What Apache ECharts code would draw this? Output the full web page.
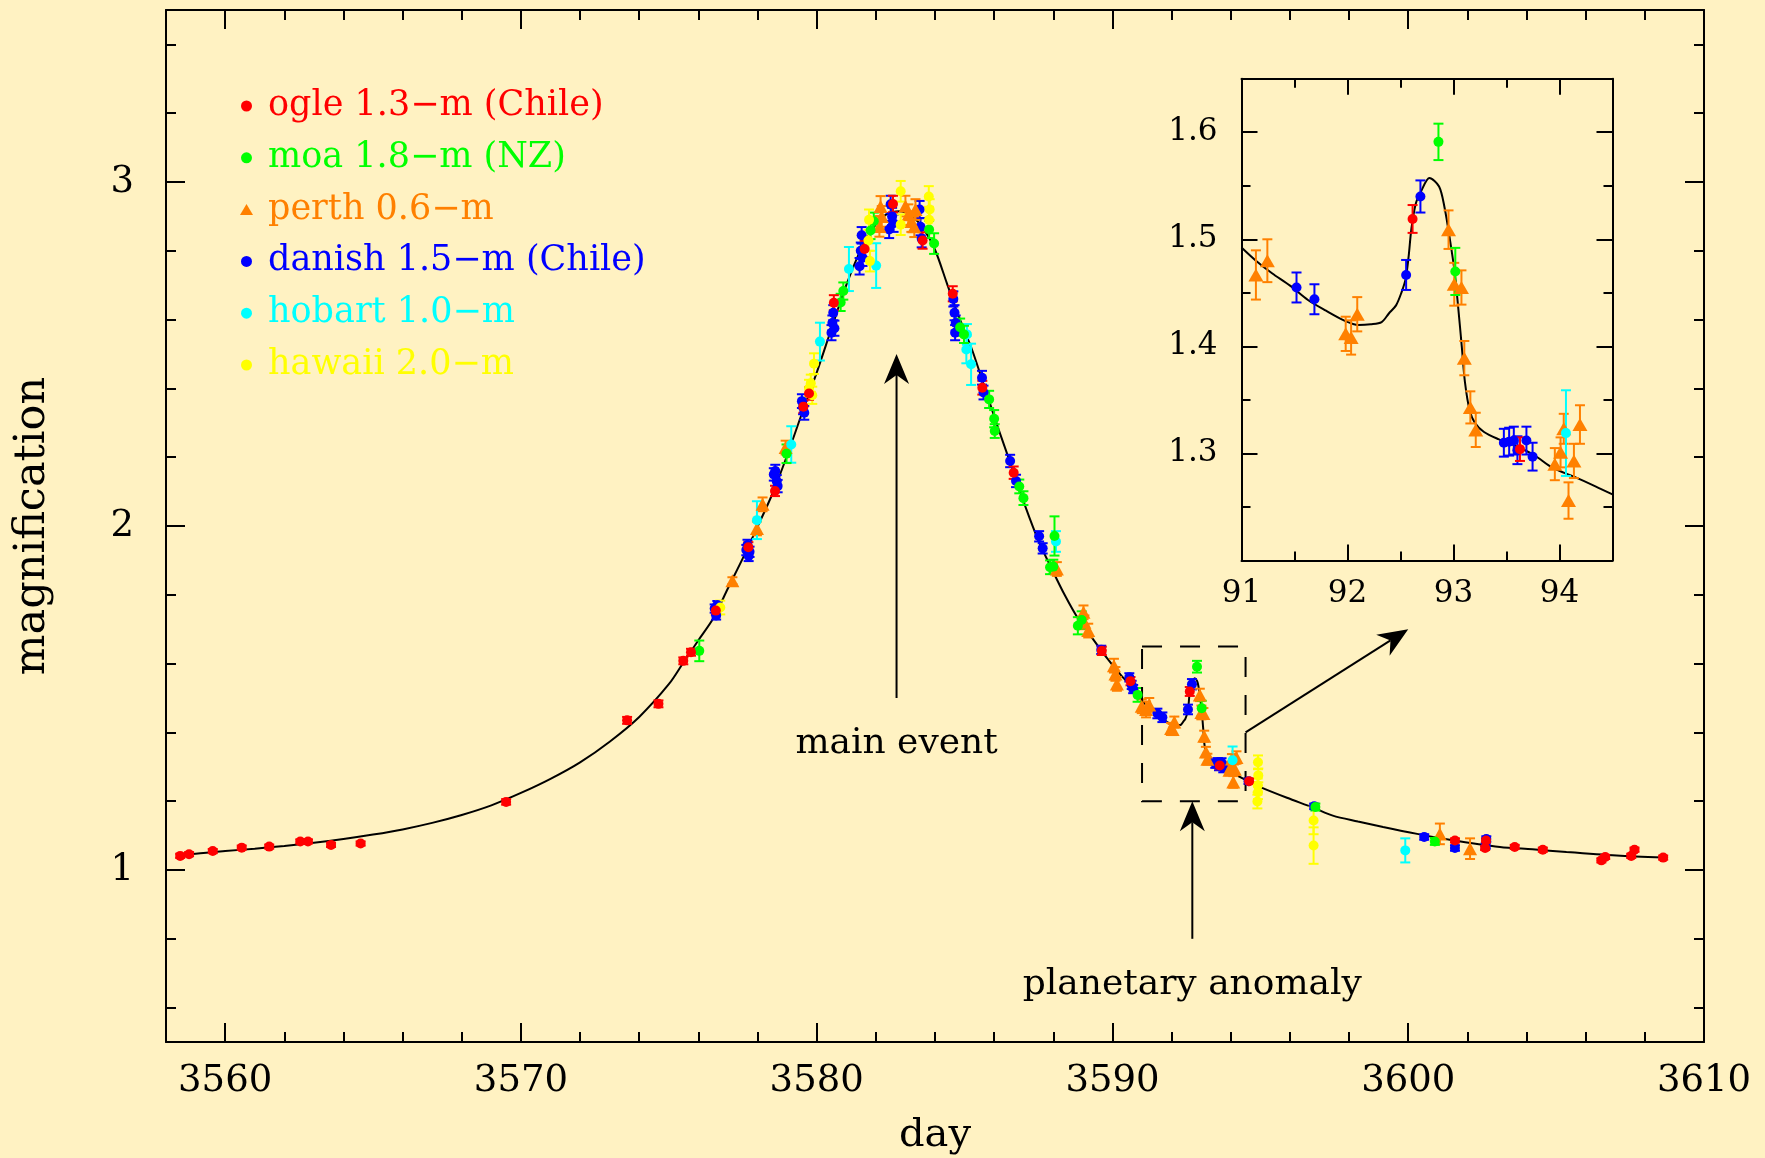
<!DOCTYPE html>
<html>
<head>
<meta charset="utf-8">
<title>planetary microlensing light curve</title>
<script src="https://cdn.jsdelivr.net/npm/echarts/dist/echarts.min.js"></script>
<style>
  html, body { margin: 0; padding: 0; background: #fff2c2; }
  #chart { width: 1765px; height: 1158px; }
</style>
</head>
<body>
<div id="chart"></div>
<script>
// [day, magnification, error], one list per telescope
const ogle = [
  [3558.48, 1.041, 0.006], [3558.78, 1.046, 0.006], [3559.58, 1.055, 0.006], [3560.56, 1.065, 0.006],
  [3561.49, 1.068, 0.006], [3562.54, 1.083, 0.006], [3562.80, 1.083, 0.006], [3563.58, 1.073, 0.006],
  [3564.58, 1.077, 0.006], [3569.50, 1.198, 0.008], [3573.59, 1.435, 0.010], [3574.65, 1.483, 0.010],
  [3575.49, 1.608, 0.010], [3575.75, 1.633, 0.010], [3576.59, 1.754, 0.012], [3577.69, 1.938, 0.015],
  [3578.59, 2.102, 0.015], [3579.55, 2.347, 0.018], [3579.74, 2.385, 0.018], [3580.58, 2.649, 0.022],
  [3581.62, 2.805, 0.024], [3582.58, 2.936, 0.024], [3583.58, 2.830, 0.024], [3584.60, 2.675, 0.022],
  [3585.60, 2.402, 0.020], [3586.66, 2.155, 0.018], [3589.64, 1.637, 0.012], [3590.61, 1.549, 0.012],
  [3592.614, 1.519, 0.013], [3593.627, 1.304, 0.011], [3594.62, 1.258, 0.008], [3601.58, 1.086, 0.006],
  [3602.63, 1.086, 0.006], [3602.60, 1.064, 0.006], [3603.60, 1.067, 0.006], [3604.55, 1.059, 0.006],
  [3606.53, 1.028, 0.006], [3606.66, 1.038, 0.006], [3607.54, 1.041, 0.006], [3607.65, 1.059, 0.006],
  [3608.62, 1.036, 0.006]
];
const moa = [
  [3576.03, 1.637, 0.030], [3578.98, 2.210, 0.027], [3580.81, 2.650, 0.025], [3580.90, 2.683, 0.025],
  [3581.82, 2.859, 0.025], [3581.93, 2.886, 0.025], [3583.80, 2.862, 0.025], [3583.97, 2.821, 0.030],
  [3584.85, 2.578, 0.025], [3584.98, 2.557, 0.025], [3585.83, 2.368, 0.025], [3586.00, 2.312, 0.025],
  [3586.02, 2.276, 0.020], [3586.85, 2.115, 0.020], [3586.99, 2.081, 0.020], [3588.04, 1.971, 0.057],
  [3587.89, 1.880, 0.020], [3588.00, 1.882, 0.020], [3588.83, 1.710, 0.025], [3588.96, 1.727, 0.025],
  [3590.85, 1.509, 0.020], [3592.858, 1.591, 0.017], [3593.017, 1.470, 0.022], [3596.86, 1.183, 0.010],
  [3600.90, 1.083, 0.010]
];
const perth = [
  [3577.15, 1.841, 0.010], [3577.98, 1.993, 0.020], [3578.17, 2.063, 0.020], [3578.95, 2.228, 0.020],
  [3582.12, 2.871, 0.030], [3582.16, 2.929, 0.030], [3582.20, 2.900, 0.030], [3583.00, 2.930, 0.030],
  [3583.10, 2.905, 0.030], [3583.20, 2.885, 0.030], [3583.30, 2.870, 0.030], [3583.34, 2.920, 0.030],
  [3588.12, 1.875, 0.020], [3589.02, 1.749, 0.020], [3589.05, 1.720, 0.020], [3589.18, 1.696, 0.020],
  [3590.05, 1.594, 0.020], [3590.10, 1.570, 0.020], [3590.15, 1.541, 0.020], [3590.99, 1.476, 0.020],
  [3591.136, 1.4667, 0.023], [3591.244, 1.480, 0.020], [3591.983, 1.4117, 0.016], [3592.034, 1.4083, 0.016],
  [3592.092, 1.430, 0.016], [3592.953, 1.509, 0.018], [3593.007, 1.458, 0.020], [3593.075, 1.455, 0.016],
  [3593.102, 1.389, 0.016], [3593.159, 1.343, 0.015], [3593.210, 1.322, 0.016], [3593.956, 1.290, 0.015],
  [3594.010, 1.301, 0.014], [3594.040, 1.323, 0.014], [3594.085, 1.256, 0.017], [3594.136, 1.293, 0.016],
  [3594.193, 1.327, 0.018], [3601.07, 1.105, 0.030], [3602.09, 1.062, 0.030]
];
const danish = [
  [3576.55, 1.760, 0.012], [3576.60, 1.740, 0.012], [3576.64, 1.770, 0.012], [3577.62, 1.930, 0.015],
  [3577.66, 1.945, 0.015], [3577.70, 1.913, 0.015], [3577.73, 1.925, 0.015], [3578.55, 2.150, 0.018],
  [3578.60, 2.160, 0.018], [3578.65, 2.130, 0.018], [3578.68, 2.116, 0.018], [3579.50, 2.363, 0.020],
  [3579.54, 2.345, 0.020], [3579.58, 2.329, 0.020], [3580.50, 2.562, 0.022], [3580.53, 2.590, 0.022],
  [3580.56, 2.620, 0.022], [3580.60, 2.575, 0.022], [3581.45, 2.755, 0.024], [3581.49, 2.800, 0.024],
  [3581.52, 2.845, 0.024], [3581.55, 2.780, 0.024], [3582.45, 2.862, 0.025], [3582.50, 2.935, 0.025],
  [3582.55, 2.900, 0.025], [3582.60, 2.880, 0.025], [3583.48, 2.920, 0.025], [3583.51, 2.870, 0.025],
  [3583.55, 2.835, 0.025], [3584.62, 2.660, 0.022], [3584.66, 2.620, 0.022], [3584.70, 2.590, 0.022],
  [3584.68, 2.562, 0.022], [3585.59, 2.431, 0.020], [3585.64, 2.388, 0.020], [3586.54, 2.189, 0.018],
  [3586.74, 2.131, 0.018], [3587.52, 1.970, 0.015], [3587.64, 1.935, 0.015], [3589.62, 1.640, 0.012],
  [3590.57, 1.560, 0.012], [3590.65, 1.538, 0.012], [3590.70, 1.526, 0.012], [3591.519, 1.455, 0.014],
  [3591.688, 1.444, 0.014], [3592.553, 1.4667, 0.014], [3592.688, 1.540, 0.015], [3593.475, 1.310, 0.013],
  [3593.525, 1.311, 0.013], [3593.569, 1.312, 0.013], [3593.603, 1.303, 0.013], [3593.688, 1.312, 0.013],
  [3593.746, 1.297, 0.013], [3594.60, 1.258, 0.008], [3596.82, 1.185, 0.008], [3600.54, 1.096, 0.008],
  [3601.58, 1.064, 0.008], [3602.64, 1.090, 0.008], [3602.62, 1.070, 0.008]
];
const hobart = [
  [3577.98, 2.017, 0.055], [3579.14, 2.237, 0.053], [3580.11, 2.536, 0.055], [3581.09, 2.747, 0.064],
  [3582.01, 2.757, 0.065], [3585.08, 2.557, 0.030], [3585.06, 2.513, 0.040], [3585.22, 2.470, 0.060],
  [3588.09, 1.955, 0.030], [3594.061, 1.319, 0.040], [3599.90, 1.057, 0.035]
];
const hawaii = [
  [3576.74, 1.763, 0.020], [3579.74, 2.400, 0.025], [3579.80, 2.415, 0.025], [3579.85, 2.380, 0.025],
  [3579.91, 2.472, 0.030], [3581.75, 2.830, 0.030], [3581.77, 2.890, 0.030], [3581.80, 2.770, 0.030],
  [3582.84, 2.973, 0.030], [3582.84, 2.876, 0.030], [3583.79, 2.958, 0.030], [3583.82, 2.920, 0.030],
  [3583.80, 2.890, 0.030], [3594.92, 1.313, 0.020], [3594.93, 1.275, 0.020], [3594.91, 1.246, 0.020],
  [3594.92, 1.226, 0.020], [3594.90, 1.199, 0.020], [3596.80, 1.144, 0.040], [3596.80, 1.071, 0.053]
];

// model light curve [day, magnification]
const model = [
  [3558.4, 1.040], [3559, 1.047], [3560, 1.055], [3561, 1.062], [3562, 1.070], [3563, 1.079],
  [3564, 1.090], [3565, 1.103], [3566, 1.118], [3567, 1.137], [3568, 1.160], [3569, 1.188],
  [3570, 1.224], [3571, 1.265], [3572, 1.313], [3573, 1.373], [3574, 1.445], [3575, 1.540],
  [3575.5, 1.604], [3576, 1.668], [3576.5, 1.731], [3577, 1.819], [3577.5, 1.906], [3578, 1.998],
  [3578.5, 2.093], [3579, 2.205], [3579.5, 2.327], [3580, 2.446], [3580.5, 2.574], [3581, 2.700],
  [3581.5, 2.805], [3582, 2.877], [3582.4, 2.908], [3582.8, 2.915], [3583.2, 2.901], [3583.6, 2.866],
  [3584, 2.803], [3584.4, 2.706], [3584.8, 2.610], [3585.25, 2.513], [3585.7, 2.397], [3586.15, 2.281],
  [3586.6, 2.170], [3587.05, 2.058], [3587.5, 1.957], [3587.95, 1.875], [3588.4, 1.797], [3588.85, 1.729],
  [3589.3, 1.676], [3589.75, 1.623], [3590.2, 1.575], [3590.65, 1.531],
  [3591.0, 1.4923], [3591.136, 1.480], [3591.288, 1.4683], [3591.458, 1.4567], [3591.627, 1.4433],
  [3591.797, 1.4333], [3591.966, 1.4243], [3592.102, 1.420], [3592.22, 1.4207], [3592.322, 1.4227],
  [3592.39, 1.4307], [3592.458, 1.4383], [3592.508, 1.450], [3592.549, 1.4633], [3592.576, 1.4833],
  [3592.603, 1.510], [3592.644, 1.5333], [3592.695, 1.545], [3592.773, 1.5573], [3592.864, 1.5493],
  [3592.915, 1.530], [3592.966, 1.500], [3593.01, 1.470], [3593.044, 1.4367], [3593.078, 1.400],
  [3593.108, 1.3667], [3593.153, 1.340], [3593.203, 1.3283], [3593.288, 1.320], [3593.424, 1.3133],
  [3593.593, 1.3067], [3593.763, 1.2983], [3593.932, 1.2867], [3594.136, 1.2783], [3594.339, 1.2693],
  [3594.5, 1.2617], [3595.0, 1.241], [3595.9, 1.210], [3596.8, 1.181], [3597.45, 1.158], [3598.3, 1.141],
  [3599.15, 1.125], [3600.3, 1.105], [3601.4, 1.088], [3603.1, 1.067], [3604.2, 1.060], [3605.35, 1.052],
  [3607.05, 1.042], [3608.62, 1.036]
];

// tick marks and labels
const dayTicks = [3560, 3570, 3580, 3590, 3600, 3610];
const dayMinorTicks = [3560, 3562, 3564, 3566, 3568, 3570, 3572, 3574, 3576, 3578, 3580, 3582, 3584,
  3586, 3588, 3590, 3592, 3594, 3596, 3598, 3600, 3602, 3604, 3606, 3608];
const magTicks = [1, 2, 3];
const magMinorTicks = [0.6, 0.8, 1.0, 1.2, 1.4, 1.6, 1.8, 2.0, 2.2, 2.4, 2.6, 2.8, 3.0, 3.2, 3.4];
const zoomDayTicks = [91, 92, 93, 94];
const zoomDayMinorTicks = [91.5, 92.5, 93.5];
const zoomMagTicks = [1.3, 1.4, 1.5, 1.6];
const zoomMagMinorTicks = [1.25, 1.35, 1.45, 1.55];

// annotations: box round the anomaly, arrows [x1, y1, x2, y2], texts [x, y, text]
const zoomWindow = [[3591, 3594.5, 1.2, 1.65]];
const arrows = [[3582.7, 1.5, 3582.7, 2.5], [3592.7, 0.8, 3592.7, 1.2], [3594.5, 1.4, 3600, 1.7]];
const notes = [[3582.7, 1.368, 'main event'], [3592.7, 0.666, 'planetary anomaly']];

const telescopes = [
  { name: 'danish 1.5\u2212m (Chile)', data: danish, color: '#0000ff', symbol: 'circle' },
  { name: 'perth 0.6\u2212m', data: perth, color: '#ff8000', symbol: 'triangle' },
  { name: 'hobart 1.0\u2212m', data: hobart, color: '#00ffff', symbol: 'circle' },
  { name: 'moa 1.8\u2212m (NZ)', data: moa, color: '#00ff00', symbol: 'circle' },
  { name: 'hawaii 2.0\u2212m', data: hawaii, color: '#ffff00', symbol: 'circle' },
  { name: 'ogle 1.3\u2212m (Chile)', data: ogle, color: '#ff0000', symbol: 'circle' }
];
const legendOrder = [5, 3, 1, 0, 2, 4];

const FONT = 'DejaVu Serif';
const ZOOM_OFFSET = 3500;
const inZoom = (d) => d >= zoomWindow[0][0] && d <= zoomWindow[0][1];

// one axis carrying either the frame line, long ticks and labels, or just short ticks
const makeAxis = (gridIndex, position, min, max, ticks, len, opts) => ({
  type: 'value',
  gridIndex,
  position,
  min,
  max,
  axisLine: { show: !!opts.line, onZero: false, lineStyle: { color: '#000', width: 2 } },
  axisTick: { show: true, inside: true, length: len, customValues: ticks, lineStyle: { color: '#000', width: 2 } },
  axisLabel: opts.label ? Object.assign({ customValues: ticks }, opts.label) : { show: false },
  splitLine: { show: false },
  name: opts.name || '',
  nameLocation: 'middle',
  nameGap: opts.nameGap || 0,
  nameTextStyle: { fontFamily: FONT, fontSize: opts.nameSize || 40, color: '#000' }
});

const mainLabel = { fontFamily: FONT, fontSize: 37, color: '#000', formatter: (v) => String(v) };
const zoomLabel = { fontFamily: FONT, fontSize: 31, color: '#000' };

const xAxes = [
  makeAxis(0, 'bottom', 3558, 3610, dayTicks, 19, { line: true, label: Object.assign({ margin: 21 }, mainLabel), name: 'day', nameGap: 74 }),
  makeAxis(0, 'bottom', 3558, 3610, dayMinorTicks, 10, {}),
  makeAxis(0, 'top', 3558, 3610, dayTicks, 19, { line: true }),
  makeAxis(0, 'top', 3558, 3610, dayMinorTicks, 10, {}),
  makeAxis(1, 'bottom', 91, 94.5, zoomDayTicks, 16, { line: true, label: Object.assign({ margin: 18, formatter: (v) => String(v) }, zoomLabel) }),
  makeAxis(1, 'bottom', 91, 94.5, zoomDayMinorTicks, 9, {}),
  makeAxis(1, 'top', 91, 94.5, zoomDayTicks, 16, { line: true }),
  makeAxis(1, 'top', 91, 94.5, zoomDayMinorTicks, 9, {})
];
const yAxes = [
  makeAxis(0, 'left', 0.5, 3.5, magTicks, 19, { line: true, label: Object.assign({ margin: 32 }, mainLabel), name: 'magnification', nameGap: 112, nameSize: 43 }),
  makeAxis(0, 'left', 0.5, 3.5, magMinorTicks, 10, {}),
  makeAxis(0, 'right', 0.5, 3.5, magTicks, 19, { line: true }),
  makeAxis(0, 'right', 0.5, 3.5, magMinorTicks, 10, {}),
  makeAxis(1, 'left', 1.2, 1.65, zoomMagTicks, 16, { line: true, label: Object.assign({ margin: 24, formatter: (v) => v.toFixed(1) }, zoomLabel) }),
  makeAxis(1, 'left', 1.2, 1.65, zoomMagMinorTicks, 9, {}),
  makeAxis(1, 'right', 1.2, 1.65, zoomMagTicks, 16, { line: true }),
  makeAxis(1, 'right', 1.2, 1.65, zoomMagMinorTicks, 9, {})
];

const errorBars = (cap, lw) => (params, api) => {
  const x = api.value(0), y = api.value(1), e = api.value(2);
  const hi = api.coord([x, y + e]);
  const lo = api.coord([x, y - e]);
  const style = { stroke: api.visual('color'), lineWidth: lw };
  return {
    type: 'group',
    children: [
      { type: 'line', shape: { x1: hi[0], y1: hi[1], x2: lo[0], y2: lo[1] }, style },
      { type: 'line', shape: { x1: hi[0] - cap, y1: hi[1], x2: hi[0] + cap, y2: hi[1] }, style },
      { type: 'line', shape: { x1: lo[0] - cap, y1: lo[1], x2: lo[0] + cap, y2: lo[1] }, style }
    ]
  };
};

const series = [];

// model curve, main panel and inset
series.push({
  type: 'line', name: 'model', xAxisIndex: 0, yAxisIndex: 0, data: model,
  symbol: 'none', smooth: 0.3, lineStyle: { color: '#000', width: 2 }, z: 1
});
series.push({
  type: 'line', name: 'model zoom', xAxisIndex: 4, yAxisIndex: 4,
  data: model.filter((p) => inZoom(p[0])).map((p) => [p[0] - ZOOM_OFFSET, p[1]]),
  symbol: 'none', smooth: 0.3, lineStyle: { color: '#000', width: 2 }, z: 1
});

telescopes.forEach((t) => {
  const zoomData = t.data.filter((p) => inZoom(p[0])).map((p) => [p[0] - ZOOM_OFFSET, p[1], p[2]]);
  const tri = t.symbol === 'triangle';
  series.push({
    type: 'custom', name: t.name + ' err', xAxisIndex: 0, yAxisIndex: 0,
    data: t.data, encode: { x: 0, y: 1 }, itemStyle: { color: t.color },
    renderItem: errorBars(5, 2)
  });
  series.push({
    type: 'scatter', name: t.name, xAxisIndex: 0, yAxisIndex: 0, data: t.data,
    symbol: t.symbol, symbolSize: tri ? [14, 13] : 10, itemStyle: { color: t.color, opacity: 1 }
  });
  series.push({
    type: 'custom', name: t.name + ' zoom err', xAxisIndex: 4, yAxisIndex: 4,
    data: zoomData, encode: { x: 0, y: 1 }, itemStyle: { color: t.color },
    renderItem: errorBars(5, 2)
  });
  series.push({
    type: 'scatter', name: t.name, xAxisIndex: 4, yAxisIndex: 4, data: zoomData,
    symbol: t.symbol, symbolSize: tri ? [15, 13] : 10, itemStyle: { color: t.color, opacity: 1 }
  });
});

// dashed box round the anomaly
series.push({
  type: 'custom', name: 'window', xAxisIndex: 0, yAxisIndex: 0, data: zoomWindow,
  renderItem: (params, api) => {
    const a = api.coord([api.value(0), api.value(3)]);
    const b = api.coord([api.value(1), api.value(2)]);
    return {
      type: 'rect',
      shape: { x: a[0], y: a[1], width: b[0] - a[0], height: b[1] - a[1] },
      style: { fill: 'none', stroke: '#000', lineWidth: 2, lineDash: [20, 18] }
    };
  }
});

// arrows with a notched head
series.push({
  type: 'custom', name: 'arrows', xAxisIndex: 0, yAxisIndex: 0, data: arrows,
  renderItem: (params, api) => {
    const p1 = api.coord([api.value(0), api.value(1)]);
    const p2 = api.coord([api.value(2), api.value(3)]);
    const ang = Math.atan2(p2[1] - p1[1], p2[0] - p1[0]);
    const dx = Math.cos(ang), dy = Math.sin(ang);
    const len = 30, half = 12.5, notch = 21;
    const head = [
      [p2[0], p2[1]],
      [p2[0] - len * dx - half * dy, p2[1] - len * dy + half * dx],
      [p2[0] - notch * dx, p2[1] - notch * dy],
      [p2[0] - len * dx + half * dy, p2[1] - len * dy - half * dx]
    ];
    return {
      type: 'group',
      children: [
        { type: 'line', shape: { x1: p1[0], y1: p1[1], x2: p2[0] - notch * dx, y2: p2[1] - notch * dy }, style: { stroke: '#000', lineWidth: 2 } },
        { type: 'polygon', shape: { points: head }, style: { fill: '#000' } }
      ]
    };
  }
});

// text notes
series.push({
  type: 'custom', name: 'notes', xAxisIndex: 0, yAxisIndex: 0, data: notes,
  renderItem: (params, api) => {
    const p = api.coord([api.value(0), api.value(1)]);
    return {
      type: 'text', x: p[0], y: p[1],
      style: {
        text: notes[params.dataIndex][2], fill: '#000',
        font: '36px "' + FONT + '"', align: 'center', verticalAlign: 'middle'
      }
    };
  }
});

const chart = echarts.init(document.getElementById('chart'));
chart.setOption({
  backgroundColor: '#fff2c2',
  animation: false,
  grid: [
    { left: 166, right: 61, top: 10, bottom: 116, containLabel: false, outerBoundsMode: 'none' },
    { left: 1241.5, right: 152.5, top: 78.7, bottom: 597.5, containLabel: false, outerBoundsMode: 'none' }
  ],
  xAxis: xAxes,
  yAxis: yAxes,
  legend: {
    orient: 'vertical',
    left: 240,
    top: 88.5,
    padding: 0,
    itemGap: 16.8,
    itemWidth: 13,
    itemHeight: 11,
    selectedMode: false,
    textStyle: { fontFamily: FONT, fontSize: 35, lineHeight: 35, padding: [0, 0, 0, 10] },
    data: legendOrder.map((i) => ({
      name: telescopes[i].name,
      icon: telescopes[i].symbol,
      itemStyle: { color: telescopes[i].color },
      textStyle: { color: telescopes[i].color }
    }))
  },
  series
});
</script>
</body>
</html>
